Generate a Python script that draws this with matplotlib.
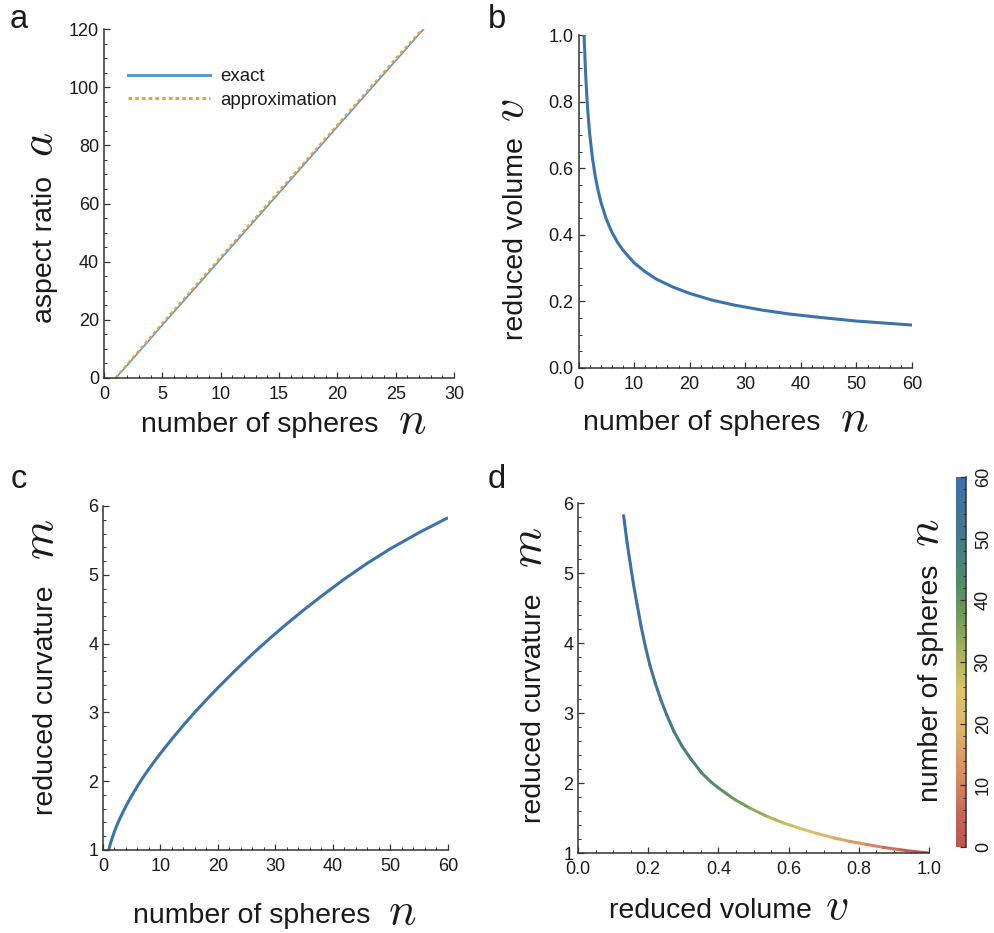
import numpy as np
import matplotlib
matplotlib.use("Agg")
import matplotlib.pyplot as plt
from matplotlib.collections import LineCollection
from matplotlib.colors import LinearSegmentedColormap, Normalize
from matplotlib.lines import Line2D
from matplotlib.ticker import MultipleLocator

plt.rcParams['font.family'] = ['Liberation Sans', 'DejaVu Sans']
plt.rcParams['mathtext.fontset'] = 'cm'

# panel a: aspect ratio vs number of spheres
n_exact = [1.0, 2.0, 5.0, 10.0, 15.0, 20.0, 25.0, 27.4]
a_exact = [0.0, 4.4, 18.2, 40.9, 63.6, 86.4, 109.1, 120.0]
n_approx = [1.0, 2.0, 5.0, 10.0, 15.0, 20.0, 25.0, 27.3]
a_approx = [0.0, 4.8, 18.8, 41.6, 64.3, 87.0, 109.8, 120.0]

# panel b: reduced volume vs number of spheres
n_vol = [1, 1.25, 1.5, 1.75, 2, 2.5, 3, 3.5, 4, 5, 6, 7, 8, 10, 12, 14, 17,
         20, 24, 28, 33, 38, 44, 50, 55, 60]
v_vol = [1.0, 0.895, 0.815, 0.755, 0.705, 0.632, 0.577, 0.535, 0.50, 0.447,
         0.408, 0.378, 0.354, 0.316, 0.289, 0.267, 0.243, 0.224, 0.204, 0.189,
         0.174, 0.162, 0.151, 0.141, 0.135, 0.129]

# panel c: reduced curvature vs number of spheres
n_curv = [1, 1.25, 1.5, 2, 2.5, 3, 4, 5, 6, 7, 8, 9, 10, 12, 14, 16, 18, 20,
          23, 26, 29, 32, 35, 38, 42, 46, 50, 55, 60]
m_curv = [1.0, 1.08, 1.15, 1.27, 1.375, 1.47, 1.64, 1.79, 1.93, 2.06, 2.18,
          2.295, 2.405, 2.615, 2.815, 3.005, 3.185, 3.36, 3.61, 3.85, 4.075,
          4.29, 4.495, 4.69, 4.94, 5.17, 5.38, 5.615, 5.83]

# panel d: reduced curvature vs reduced volume
v_d = [0.130, 0.135, 0.140, 0.149, 0.158, 0.168, 0.180, 0.192, 0.205, 0.220,
       0.236, 0.253, 0.273, 0.296, 0.322, 0.353, 0.380, 0.400, 0.425, 0.448,
       0.490, 0.540, 0.585, 0.630, 0.680, 0.730, 0.775, 0.820, 0.870, 0.920,
       0.960, 1.0]
m_d = [5.82, 5.62, 5.43, 5.13, 4.84, 4.56, 4.23, 3.95, 3.68, 3.43, 3.19,
       2.97, 2.74, 2.53, 2.34, 2.14, 2.01, 1.93, 1.84, 1.76, 1.64, 1.52, 1.43,
       1.355, 1.28, 1.215, 1.165, 1.125, 1.08, 1.045, 1.02, 1.0]

cbar_ticks = [0, 10, 20, 30, 40, 50, 60]

W, H = 995, 933
TXT = '#1a1a1a'
AX = '#333333'
BLUE = '#3b74ad'


def px(x, y):
    return x / W, 1 - y / H


def box(l, t, r, b):
    return [l / W, 1 - b / H, (r - l) / W, (b - t) / H]


def style(ax, xmaj, xmin, ymaj, ymin):
    for s in ['top', 'right']:
        ax.spines[s].set_visible(False)
    for s in ['left', 'bottom']:
        ax.spines[s].set_color(AX)
        ax.spines[s].set_linewidth(1.1)
    ax.xaxis.set_major_locator(MultipleLocator(xmaj))
    ax.xaxis.set_minor_locator(MultipleLocator(xmin))
    ax.yaxis.set_major_locator(MultipleLocator(ymaj))
    ax.yaxis.set_minor_locator(MultipleLocator(ymin))
    ax.tick_params(which='both', direction='in', colors=AX, labelcolor=TXT,
                   labelsize=13)
    ax.tick_params(which='major', length=4.5, width=0.9)
    ax.tick_params(which='minor', length=2.3, width=0.7)
    ax.tick_params(axis='x', pad=6)
    ax.tick_params(axis='y', pad=3.5)


def xlabel(fig, txt, var, x_end, x_var, y):
    fig.text(*px(x_end, y), txt, ha='right', va='baseline', fontsize=20.5,
             color=TXT)
    fig.text(*px(x_var, y + 1), var, ha='left', va='baseline', fontsize=33,
             color=TXT)


def ylabel(fig, txt, var, x, y_start, y_var):
    fig.text(*px(x, y_start), txt, ha='left', va='baseline', fontsize=20.5,
             rotation=90, rotation_mode='anchor', color=TXT)
    fig.text(*px(x, y_var), var, ha='left', va='baseline', fontsize=33,
             rotation=90, rotation_mode='anchor', color=TXT)


fig = plt.figure(figsize=(W / 100, H / 100), dpi=100)

# ---- a
ax_a = fig.add_axes(box(104, 29, 454, 378))
ax_a.plot(n_exact, a_exact, color='#5b97d0', lw=1.2)
ax_a.plot(n_approx, a_approx, color='#e9a33c', lw=1.6, ls=(0, (1.6, 1.3)))
ax_a.set_xlim(0, 30)
ax_a.set_ylim(0, 120)
style(ax_a, 5, 1, 20, 5)
handles = [Line2D([], [], color='#5b97d0', lw=2.2),
           Line2D([], [], color='#e9a33c', lw=2.2, ls=(0, (1.2, 1.0)))]
ax_a.legend(handles, ['exact', 'approximation'], loc='upper left',
            bbox_to_anchor=px(128, 68), bbox_transform=fig.transFigure,
            frameon=False, fontsize=13.4, handlelength=4.4,
            handletextpad=0.55, labelspacing=0.35, borderpad=0,
            borderaxespad=0, labelcolor=TXT)
xlabel(fig, 'number of spheres', '$n$', 378, 398, 432)
ylabel(fig, 'aspect ratio', '$a$', 52, 323, 157)

# ---- b
ax_b = fig.add_axes(box(578.5, 35, 912, 368))
ax_b.plot(n_vol, v_vol, color=BLUE, lw=2.2, solid_capstyle='butt',
          solid_joinstyle='round')
ax_b.set_xlim(0, 60)
ax_b.set_ylim(0, 1)
style(ax_b, 10, 2, 0.2, 0.05)
ax_b.yaxis.set_major_formatter(lambda v, p: f'{v:.1f}')
xlabel(fig, 'number of spheres', '$n$', 820, 840, 430)
ylabel(fig, 'reduced volume', '$v$', 523, 340, 122)

# ---- c
ax_c = fig.add_axes(box(103, 506, 448, 850))
ax_c.plot(n_curv, m_curv, color=BLUE, lw=2.2, solid_capstyle='butt',
          solid_joinstyle='round')
ax_c.set_xlim(0, 60)
ax_c.set_ylim(1, 6)
style(ax_c, 10, 2, 1, 0.2)
xlabel(fig, 'number of spheres', '$n$', 370, 388, 923)
ylabel(fig, 'reduced curvature', '$m$', 53, 815, 560)

# ---- d
cmap = LinearSegmentedColormap.from_list('spheres', [
    (0.00, '#c0524f'), (0.10, '#c96a58'), (0.20, '#d98f62'),
    (0.32, '#ddb46a'), (0.42, '#d9c56b'), (0.52, '#aab45d'),
    (0.62, '#719d5b'), (0.72, '#508b68'), (0.85, '#44798e'),
    (1.00, '#3b6fae')])

ax_d = fig.add_axes(box(578, 503, 929, 853))
pts = np.column_stack([v_d, m_d]).reshape(-1, 1, 2)
segs = np.concatenate([pts[:-1], pts[1:]], axis=1)
v_mid = (np.array(v_d[:-1]) + np.array(v_d[1:])) / 2
lc = LineCollection(segs, cmap=cmap.reversed(),
                    norm=Normalize(min(v_d), max(v_d)), lw=2.2,
                    capstyle='round', joinstyle='round')
lc.set_array(v_mid)
ax_d.add_collection(lc)
ax_d.set_xlim(0, 1)
ax_d.set_ylim(1, 6)
style(ax_d, 0.2, 0.05, 1, 0.2)
ax_d.xaxis.set_major_formatter(lambda v, p: f'{v:.1f}')
xlabel(fig, 'reduced volume', '$v$', 812, 825, 918)
ylabel(fig, 'reduced curvature', '$m$', 541, 823, 568)

cax = fig.add_axes(box(956, 477, 966.5, 847))
sm = plt.cm.ScalarMappable(cmap=cmap, norm=Normalize(0, 60))
cb = fig.colorbar(sm, cax=cax, ticks=cbar_ticks)
cb.outline.set_visible(False)
cax.plot([1, 1], [0, 1], transform=cax.transAxes, color=AX, lw=1.1,
         clip_on=False)
cax.yaxis.set_minor_locator(MultipleLocator(2))
cax.tick_params(which='both', direction='in', colors=AX, labelcolor=TXT,
                labelsize=13, pad=6)
cax.tick_params(which='major', length=4.5, width=0.9)
cax.tick_params(which='minor', length=2.3, width=0.7)
for lab in cax.get_yticklabels():
    lab.set_rotation(90)
    lab.set_va('center')
ylabel(fig, 'number of spheres', '$n$', 938, 802, 547)

# panel letters
for letter, x, y in [('a', 10, 28), ('b', 488, 28), ('c', 11, 488),
                     ('d', 488, 488)]:
    fig.text(*px(x, y), letter, fontsize=23.5, va='baseline', color=TXT)

fig.savefig('out.png', dpi=100)
